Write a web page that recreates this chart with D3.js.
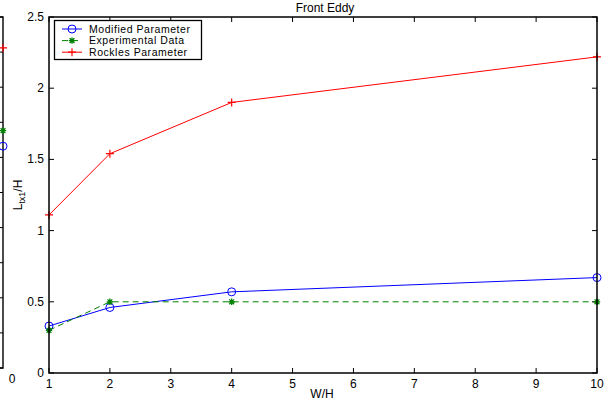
<!DOCTYPE html>
<html><head><meta charset="utf-8">
<script src="https://cdn.jsdelivr.net/npm/d3@7"></script>
<style>
html,body{margin:0;padding:0;background:#fff;}
svg{display:block;font-family:"Liberation Sans",Arial,Helvetica,sans-serif;}
</style></head>
<body><svg id="c" width="607" height="406"></svg>
<script>
// ---- data ----
const xValues = [1, 2, 4, 10];
const modifiedParam = [0.33, 0.46, 0.57, 0.67];
const experimentalData = [0.30, 0.50, 0.50, 0.50];
const rocklesParam = [1.11, 1.54, 1.90, 2.22];
const seriesNames = ["Modified Parameter", "Experimental Data", "Rockles Parameter"];
const xTicks = [1, 2, 3, 4, 5, 6, 7, 8, 9, 10];
const yTicks = [0, 0.5, 1, 1.5, 2, 2.5];
const titleText = "Front Eddy";
const xLabel = "W/H";
// neighbouring (cut-off) subplot at the left edge: last points at x = 10
const fragX = [10];
const fragModified = [3.16];
const fragExperimental = [3.38];
const fragRockles = [4.56];
const fragYTicks = [0,0.5,1,1.5,2,2.5,3,3.5,4,4.5,5];
const fragVisibleLabel = "0";

const svg = d3.select("#c");
const L = 49, R = 597, T = 17, B = 373;
const x = d3.scaleLinear().domain([1, 10]).range([L, R]);
const y = d3.scaleLinear().domain([0, 2.5]).range([B, T]);
const FS = 12;

const blue = "#0000ff", green = "#008000", red = "#ff0000";
const styles = [
  {name: seriesNames[0], vals: modifiedParam, color: blue, dash: null, marker: "circle"},
  {name: seriesNames[1], vals: experimentalData, color: green, dash: "6,4", marker: "star"},
  {name: seriesNames[2], vals: rocklesParam, color: red, dash: null, marker: "plus"}
];

function drawMarker(g, type, cx, cy, color) {
  if (type === "circle") {
    g.append("circle").attr("cx", cx).attr("cy", cy).attr("r", 4)
      .attr("fill", "none").attr("stroke", color).attr("stroke-width", 1);
  } else if (type === "plus") {
    g.append("path").attr("d", `M${cx-4},${cy}H${cx+4}M${cx},${cy-4}V${cy+4}`)
      .attr("stroke", color).attr("stroke-width", 1.2).attr("fill", "none");
  } else {
    const s = 3.2, d = 2.4;
    g.append("path").attr("d",
      `M${cx-s},${cy}H${cx+s}M${cx},${cy-s}V${cy+s}M${cx-d},${cy-d}L${cx+d},${cy+d}M${cx-d},${cy+d}L${cx+d},${cy-d}`)
      .attr("stroke", color).attr("stroke-width", 1.3).attr("fill", "none");
  }
}

// ---- left fragment subplot ----
const fx = d3.scaleLinear().domain([0, 10]).range([-300, 3]);
const fy = d3.scaleLinear().domain([0, 5]).range([368, 17]);
const frag = svg.append("g");
frag.append("path").attr("d", `M-1,${fy(5)}H${fx(10)}V${fy(0)}H-1`)
  .attr("fill", "none").attr("stroke", "#000").attr("stroke-width", 1.4);
fragYTicks.forEach(t => {
  frag.append("line").attr("x1", fx(10)).attr("x2", fx(10) - 4)
    .attr("y1", fy(t)).attr("y2", fy(t)).attr("stroke", "#000").attr("stroke-width", 1);
});
frag.append("text").attr("x", 12).attr("y", 383).attr("text-anchor", "middle")
  .attr("font-size", FS).text(fragVisibleLabel);
[[fragModified, blue, "circle"], [fragExperimental, green, "star"], [fragRockles, red, "plus"]]
  .forEach(([vals, col, mk]) => drawMarker(frag, mk, fx(fragX[0]), fy(vals[0]), col));

// ---- main axes ----
const g = svg.append("g");
g.append("rect").attr("x", L).attr("y", T).attr("width", R - L).attr("height", B - T)
  .attr("fill", "#fff");

const tickLen = 5;
xTicks.forEach(t => {
  g.append("line").attr("x1", x(t)).attr("x2", x(t)).attr("y1", B).attr("y2", B - tickLen)
    .attr("stroke", "#000");
  g.append("line").attr("x1", x(t)).attr("x2", x(t)).attr("y1", T).attr("y2", T + tickLen)
    .attr("stroke", "#000");
  g.append("text").attr("x", x(t)).attr("y", 388).attr("text-anchor", "middle")
    .attr("font-size", FS).text(t);
});
yTicks.forEach(t => {
  g.append("line").attr("x1", L).attr("x2", L + tickLen).attr("y1", y(t)).attr("y2", y(t))
    .attr("stroke", "#000");
  g.append("line").attr("x1", R).attr("x2", R - tickLen).attr("y1", y(t)).attr("y2", y(t))
    .attr("stroke", "#000");
  g.append("text").attr("x", 44).attr("y", y(t) + 4).attr("text-anchor", "end")
    .attr("font-size", FS).text(d3.format("")(t));
});

// series
const line = d3.line().x((d, i) => x(xValues[i])).y(d => y(d));
styles.forEach(s => {
  g.append("path").attr("d", line(s.vals)).attr("fill", "none")
    .attr("stroke", s.color).attr("stroke-width", 1)
    .attr("stroke-dasharray", s.dash);
  s.vals.forEach((v, i) => drawMarker(g, s.marker, x(xValues[i]), y(v), s.color));
});

// box
g.append("rect").attr("x", L).attr("y", T).attr("width", R - L).attr("height", B - T)
  .attr("fill", "none").attr("stroke", "#000").attr("stroke-width", 1.5);

// title & labels
g.append("text").attr("x", (L + R) / 2 + 2).attr("y", 12).attr("text-anchor", "middle")
  .attr("font-size", FS).text(titleText);
g.append("text").attr("x", (L + R) / 2 - 1).attr("y", 398).attr("text-anchor", "middle")
  .attr("font-size", FS).text(xLabel);
const yl = g.append("text").attr("transform", `translate(22,${(T + B) / 2}) rotate(-90)`)
  .attr("text-anchor", "middle").attr("font-size", FS);
yl.append("tspan").text("L");
yl.append("tspan").attr("font-size", 9).attr("dy", 3).text("tx1");
yl.append("tspan").attr("dy", -3).text("/H");

// legend
const lg = g.append("g");
lg.append("rect").attr("x", 54.5).attr("y", 20.5).attr("width", 147).attr("height", 39)
  .attr("fill", "#fff").attr("stroke", "#000").attr("stroke-width", 1.3);
styles.forEach((s, i) => {
  const ly = 29 + i * 11.6;
  lg.append("line").attr("x1", 62).attr("x2", 82).attr("y1", ly).attr("y2", ly)
    .attr("stroke", s.color).attr("stroke-width", 1).attr("stroke-dasharray", s.dash);
  drawMarker(lg, s.marker, 72, ly, s.color);
  lg.append("text").attr("x", 89).attr("y", ly + 3.8).attr("font-size", 10.5)
    .attr("letter-spacing", 0.55).text(s.name);
});
</script></body></html>
